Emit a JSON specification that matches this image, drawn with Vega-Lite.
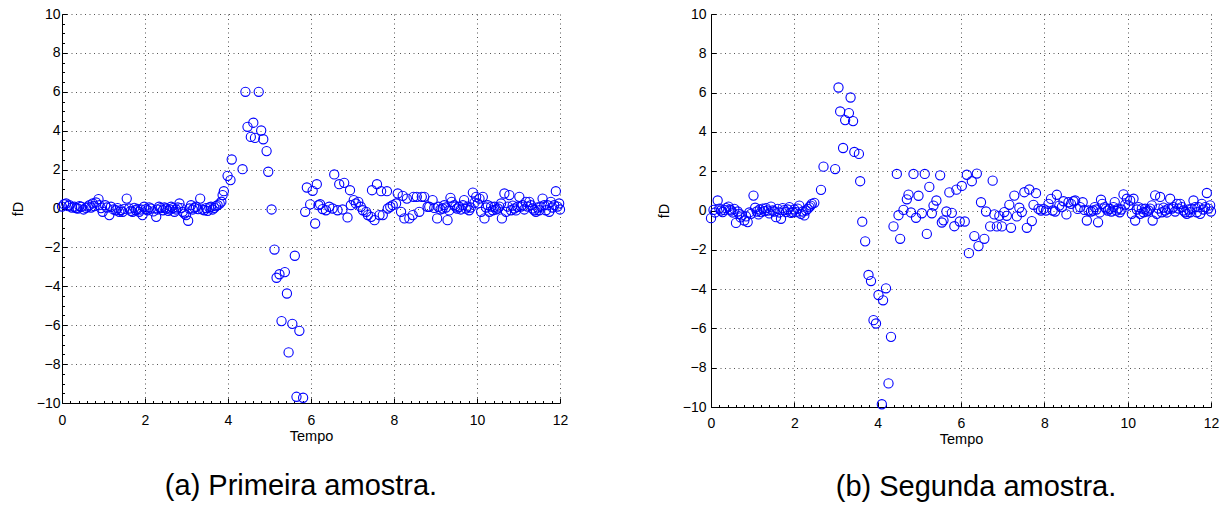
{
  "$schema": "https://vega.github.io/schema/vega-lite/v6.json",
  "padding": {"left": 10, "top": 7, "right": 5, "bottom": 5},
  "background": "white",
  "spacing": 88,
  "config": {
    "font": "Liberation Sans",
    "view": {"stroke": null},
    "axis": {
      "domainColor": "#000000",
      "domainWidth": 1,
      "tickColor": "#000000",
      "tickWidth": 1,
      "labelColor": "#000000",
      "labelFontSize": 14,
      "labelFont": "Liberation Sans",
      "titleFont": "Liberation Sans",
      "titleFontSize": 14.5,
      "titleFontWeight": "normal",
      "titleColor": "#000000",
      "grid": true,
      "gridColor": "#555555",
      "gridDash": [1, 3.5],
      "gridWidth": 1,
      "format": "d",
      "labelOverlap": false,
      "labelFlush": false,
      "labelBound": false
    },
    "title": {"font": "Liberation Sans", "fontSize": 29, "fontWeight": "normal", "color": "#000000", "orient": "bottom", "anchor": "middle"}
  },
  "datasets": {
    "primeira": [
      {"t": 0.00, "fD": 0.10}, {"t": 0.05, "fD": 0.22}, {"t": 0.10, "fD": 0.26}, {"t": 0.15, "fD": 0.12},
      {"t": 0.18, "fD": 0.17}, {"t": 0.24, "fD": 0.05}, {"t": 0.30, "fD": 0.09}, {"t": 0.34, "fD": 0.02},
      {"t": 0.38, "fD": 0.00}, {"t": 0.42, "fD": 0.12}, {"t": 0.46, "fD": 0.09}, {"t": 0.52, "fD": -0.05},
      {"t": 0.58, "fD": 0.03}, {"t": 0.62, "fD": 0.10}, {"t": 0.66, "fD": 0.17}, {"t": 0.70, "fD": 0.05},
      {"t": 0.74, "fD": 0.26}, {"t": 0.78, "fD": 0.12}, {"t": 0.82, "fD": 0.31}, {"t": 0.88, "fD": 0.48},
      {"t": 0.90, "fD": 0.17}, {"t": 0.94, "fD": 0.02}, {"t": 0.98, "fD": -0.17}, {"t": 1.04, "fD": 0.17},
      {"t": 1.08, "fD": 0.05}, {"t": 1.14, "fD": -0.34}, {"t": 1.18, "fD": 0.09}, {"t": 1.24, "fD": -0.05},
      {"t": 1.30, "fD": -0.09}, {"t": 1.34, "fD": 0.02}, {"t": 1.38, "fD": -0.17}, {"t": 1.42, "fD": -0.08},
      {"t": 1.46, "fD": -0.17}, {"t": 1.50, "fD": -0.02}, {"t": 1.56, "fD": 0.51}, {"t": 1.62, "fD": 0.00},
      {"t": 1.66, "fD": -0.12}, {"t": 1.70, "fD": -0.17}, {"t": 1.74, "fD": 0.03}, {"t": 1.78, "fD": -0.09},
      {"t": 1.82, "fD": -0.02}, {"t": 1.86, "fD": -0.17}, {"t": 1.90, "fD": -0.05}, {"t": 1.94, "fD": -0.34},
      {"t": 1.98, "fD": 0.09}, {"t": 2.02, "fD": -0.03}, {"t": 2.06, "fD": -0.09}, {"t": 2.10, "fD": 0.06},
      {"t": 2.14, "fD": 0.00}, {"t": 2.20, "fD": -0.15}, {"t": 2.27, "fD": -0.43}, {"t": 2.30, "fD": -0.05},
      {"t": 2.34, "fD": 0.09}, {"t": 2.38, "fD": 0.02}, {"t": 2.43, "fD": -0.09}, {"t": 2.47, "fD": 0.05},
      {"t": 2.51, "fD": 0.00}, {"t": 2.56, "fD": -0.12}, {"t": 2.60, "fD": -0.05}, {"t": 2.63, "fD": 0.09},
      {"t": 2.67, "fD": 0.02}, {"t": 2.71, "fD": -0.17}, {"t": 2.75, "fD": -0.05}, {"t": 2.79, "fD": 0.05},
      {"t": 2.83, "fD": 0.26}, {"t": 2.87, "fD": 0.02}, {"t": 2.91, "fD": -0.17}, {"t": 2.95, "fD": -0.26},
      {"t": 2.99, "fD": -0.34}, {"t": 3.04, "fD": -0.63}, {"t": 3.07, "fD": 0.00}, {"t": 3.11, "fD": 0.17},
      {"t": 3.15, "fD": -0.05}, {"t": 3.19, "fD": 0.04}, {"t": 3.23, "fD": 0.09}, {"t": 3.28, "fD": -0.03},
      {"t": 3.33, "fD": 0.51}, {"t": 3.38, "fD": -0.05}, {"t": 3.43, "fD": -0.09}, {"t": 3.47, "fD": 0.02},
      {"t": 3.51, "fD": -0.12}, {"t": 3.55, "fD": 0.05}, {"t": 3.59, "fD": 0.09}, {"t": 3.63, "fD": -0.05},
      {"t": 3.67, "fD": 0.03}, {"t": 3.71, "fD": 0.12}, {"t": 3.75, "fD": 0.17}, {"t": 3.80, "fD": 0.25},
      {"t": 3.84, "fD": 0.35}, {"t": 3.87, "fD": 0.69}, {"t": 3.90, "fD": 0.89}, {"t": 3.99, "fD": 1.68},
      {"t": 4.06, "fD": 1.46}, {"t": 4.09, "fD": 2.52}, {"t": 4.35, "fD": 2.02}, {"t": 4.42, "fD": 6.00},
      {"t": 4.47, "fD": 4.20}, {"t": 4.55, "fD": 3.68}, {"t": 4.61, "fD": 4.41}, {"t": 4.65, "fD": 3.63},
      {"t": 4.74, "fD": 6.00}, {"t": 4.80, "fD": 4.01}, {"t": 4.85, "fD": 3.56}, {"t": 4.93, "fD": 2.95},
      {"t": 4.97, "fD": 1.89}, {"t": 5.05, "fD": -0.05}, {"t": 5.12, "fD": -2.11}, {"t": 5.17, "fD": -3.56},
      {"t": 5.24, "fD": -3.38}, {"t": 5.29, "fD": -5.79}, {"t": 5.37, "fD": -3.27}, {"t": 5.42, "fD": -4.37},
      {"t": 5.46, "fD": -7.40}, {"t": 5.55, "fD": -5.93}, {"t": 5.61, "fD": -2.43}, {"t": 5.65, "fD": -9.68},
      {"t": 5.72, "fD": -6.29}, {"t": 5.81, "fD": -9.73}, {"t": 5.86, "fD": -0.17}, {"t": 5.90, "fD": 1.08},
      {"t": 5.98, "fD": 0.21}, {"t": 6.04, "fD": 0.91}, {"t": 6.10, "fD": -0.77}, {"t": 6.14, "fD": 1.25},
      {"t": 6.18, "fD": 0.17}, {"t": 6.22, "fD": 0.22}, {"t": 6.28, "fD": -0.03}, {"t": 6.36, "fD": -0.09},
      {"t": 6.44, "fD": 0.09}, {"t": 6.52, "fD": 0.00}, {"t": 6.56, "fD": 1.75}, {"t": 6.64, "fD": -0.09},
      {"t": 6.68, "fD": 1.25}, {"t": 6.76, "fD": -0.05}, {"t": 6.80, "fD": 1.32}, {"t": 6.88, "fD": -0.46},
      {"t": 6.94, "fD": 0.94}, {"t": 6.96, "fD": 0.17}, {"t": 7.03, "fD": 0.43}, {"t": 7.08, "fD": 0.26},
      {"t": 7.14, "fD": 0.34}, {"t": 7.20, "fD": 0.09}, {"t": 7.25, "fD": -0.09}, {"t": 7.33, "fD": -0.17},
      {"t": 7.37, "fD": -0.34}, {"t": 7.45, "fD": -0.43}, {"t": 7.47, "fD": 0.94}, {"t": 7.53, "fD": -0.60},
      {"t": 7.59, "fD": 1.25}, {"t": 7.65, "fD": -0.34}, {"t": 7.69, "fD": 0.89}, {"t": 7.73, "fD": -0.34},
      {"t": 7.83, "fD": 0.89}, {"t": 7.85, "fD": 0.00}, {"t": 7.91, "fD": 0.09}, {"t": 7.97, "fD": 0.17},
      {"t": 8.05, "fD": 0.26}, {"t": 8.09, "fD": 0.77}, {"t": 8.17, "fD": -0.17}, {"t": 8.21, "fD": 0.65},
      {"t": 8.25, "fD": -0.51}, {"t": 8.31, "fD": 0.51}, {"t": 8.37, "fD": -0.51}, {"t": 8.45, "fD": -0.34},
      {"t": 8.47, "fD": 0.60}, {"t": 8.55, "fD": 0.60}, {"t": 8.61, "fD": -0.17}, {"t": 8.67, "fD": 0.60},
      {"t": 8.73, "fD": 0.60}, {"t": 8.81, "fD": 0.09}, {"t": 8.85, "fD": 0.09}, {"t": 8.93, "fD": 0.43},
      {"t": 8.97, "fD": 0.03}, {"t": 9.04, "fD": -0.51}, {"t": 9.07, "fD": 0.09}, {"t": 9.12, "fD": -0.05},
      {"t": 9.17, "fD": 0.00}, {"t": 9.21, "fD": 0.17}, {"t": 9.25, "fD": 0.05}, {"t": 9.29, "fD": -0.60},
      {"t": 9.33, "fD": -0.10}, {"t": 9.36, "fD": 0.55}, {"t": 9.39, "fD": 0.34}, {"t": 9.45, "fD": 0.17},
      {"t": 9.48, "fD": 0.10}, {"t": 9.52, "fD": 0.00}, {"t": 9.57, "fD": 0.09}, {"t": 9.61, "fD": -0.05},
      {"t": 9.66, "fD": 0.17}, {"t": 9.69, "fD": 0.43}, {"t": 9.73, "fD": 0.00}, {"t": 9.77, "fD": 0.10},
      {"t": 9.81, "fD": -0.09}, {"t": 9.85, "fD": 0.05}, {"t": 9.90, "fD": 0.82}, {"t": 9.94, "fD": 0.30},
      {"t": 9.98, "fD": 0.60}, {"t": 10.02, "fD": 0.26}, {"t": 10.06, "fD": 0.51}, {"t": 10.10, "fD": -0.17},
      {"t": 10.14, "fD": 0.60}, {"t": 10.18, "fD": -0.51}, {"t": 10.22, "fD": 0.05}, {"t": 10.26, "fD": 0.17},
      {"t": 10.30, "fD": -0.17}, {"t": 10.34, "fD": 0.10}, {"t": 10.38, "fD": -0.09}, {"t": 10.42, "fD": 0.09},
      {"t": 10.46, "fD": -0.05}, {"t": 10.50, "fD": 0.00}, {"t": 10.54, "fD": 0.10}, {"t": 10.58, "fD": 0.26},
      {"t": 10.60, "fD": -0.51}, {"t": 10.66, "fD": 0.77}, {"t": 10.70, "fD": -0.17}, {"t": 10.74, "fD": 0.10},
      {"t": 10.78, "fD": 0.69}, {"t": 10.82, "fD": -0.09}, {"t": 10.86, "fD": 0.15}, {"t": 10.90, "fD": 0.00},
      {"t": 10.94, "fD": -0.10}, {"t": 10.98, "fD": 0.09}, {"t": 11.02, "fD": 0.60}, {"t": 11.06, "fD": 0.10},
      {"t": 11.10, "fD": 0.17}, {"t": 11.14, "fD": -0.05}, {"t": 11.18, "fD": 0.34}, {"t": 11.22, "fD": 0.10},
      {"t": 11.26, "fD": 0.34}, {"t": 11.30, "fD": 0.17}, {"t": 11.34, "fD": 0.00}, {"t": 11.38, "fD": -0.09},
      {"t": 11.42, "fD": -0.17}, {"t": 11.46, "fD": 0.05}, {"t": 11.50, "fD": -0.09}, {"t": 11.54, "fD": 0.10},
      {"t": 11.58, "fD": 0.51}, {"t": 11.62, "fD": 0.17}, {"t": 11.66, "fD": -0.09}, {"t": 11.70, "fD": 0.17},
      {"t": 11.74, "fD": -0.17}, {"t": 11.78, "fD": 0.34}, {"t": 11.82, "fD": 0.05}, {"t": 11.86, "fD": 0.17},
      {"t": 11.90, "fD": 0.89}, {"t": 11.94, "fD": 0.10}, {"t": 11.98, "fD": 0.26}, {"t": 12.00, "fD": -0.05}
    ],
    "segunda": [
      {"t": 0.00, "fD": -0.39}, {"t": 0.06, "fD": 0.03}, {"t": 0.10, "fD": -0.10}, {"t": 0.16, "fD": 0.51},
      {"t": 0.20, "fD": 0.10}, {"t": 0.24, "fD": 0.00}, {"t": 0.28, "fD": -0.08}, {"t": 0.32, "fD": 0.03},
      {"t": 0.36, "fD": 0.12}, {"t": 0.42, "fD": 0.20}, {"t": 0.45, "fD": 0.05}, {"t": 0.48, "fD": 0.00},
      {"t": 0.52, "fD": -0.10}, {"t": 0.56, "fD": 0.08}, {"t": 0.60, "fD": -0.63}, {"t": 0.64, "fD": -0.05},
      {"t": 0.68, "fD": -0.17}, {"t": 0.71, "fD": -0.35}, {"t": 0.74, "fD": -0.25}, {"t": 0.80, "fD": -0.51},
      {"t": 0.84, "fD": -0.30}, {"t": 0.88, "fD": -0.59}, {"t": 0.92, "fD": -0.10}, {"t": 0.96, "fD": -0.17},
      {"t": 1.02, "fD": 0.76}, {"t": 1.06, "fD": 0.14}, {"t": 1.10, "fD": -0.05}, {"t": 1.14, "fD": -0.20},
      {"t": 1.17, "fD": 0.05}, {"t": 1.20, "fD": -0.08}, {"t": 1.24, "fD": 0.10}, {"t": 1.28, "fD": -0.03},
      {"t": 1.32, "fD": 0.12}, {"t": 1.36, "fD": 0.00}, {"t": 1.40, "fD": -0.15}, {"t": 1.44, "fD": 0.20},
      {"t": 1.48, "fD": 0.00}, {"t": 1.52, "fD": -0.05}, {"t": 1.56, "fD": -0.34}, {"t": 1.60, "fD": 0.08},
      {"t": 1.64, "fD": -0.10}, {"t": 1.68, "fD": -0.42}, {"t": 1.72, "fD": 0.12}, {"t": 1.76, "fD": 0.02},
      {"t": 1.80, "fD": -0.08}, {"t": 1.84, "fD": 0.05}, {"t": 1.88, "fD": 0.17}, {"t": 1.92, "fD": -0.12},
      {"t": 1.96, "fD": -0.08}, {"t": 2.00, "fD": 0.05}, {"t": 2.04, "fD": -0.08}, {"t": 2.08, "fD": 0.10},
      {"t": 2.12, "fD": 0.25}, {"t": 2.16, "fD": -0.17}, {"t": 2.20, "fD": -0.05}, {"t": 2.24, "fD": -0.25},
      {"t": 2.28, "fD": 0.00}, {"t": 2.32, "fD": 0.08}, {"t": 2.36, "fD": 0.17}, {"t": 2.39, "fD": 0.25},
      {"t": 2.42, "fD": 0.34}, {"t": 2.48, "fD": 0.39}, {"t": 2.64, "fD": 1.05}, {"t": 2.70, "fD": 2.23},
      {"t": 2.98, "fD": 2.11}, {"t": 3.06, "fD": 6.26}, {"t": 3.10, "fD": 5.04}, {"t": 3.17, "fD": 3.18},
      {"t": 3.22, "fD": 4.60}, {"t": 3.31, "fD": 4.96}, {"t": 3.35, "fD": 5.75}, {"t": 3.41, "fD": 4.55},
      {"t": 3.44, "fD": 2.98}, {"t": 3.55, "fD": 2.88}, {"t": 3.58, "fD": 1.49}, {"t": 3.63, "fD": -0.57},
      {"t": 3.70, "fD": -1.57}, {"t": 3.78, "fD": -3.28}, {"t": 3.84, "fD": -3.59}, {"t": 3.90, "fD": -5.58},
      {"t": 3.96, "fD": -5.75}, {"t": 4.02, "fD": -4.30}, {"t": 4.10, "fD": -9.86}, {"t": 4.13, "fD": -4.57},
      {"t": 4.20, "fD": -3.96}, {"t": 4.26, "fD": -8.80}, {"t": 4.32, "fD": -6.43}, {"t": 4.38, "fD": -0.81},
      {"t": 4.46, "fD": 1.86}, {"t": 4.50, "fD": -0.24}, {"t": 4.54, "fD": -1.44}, {"t": 4.62, "fD": 0.03},
      {"t": 4.70, "fD": 0.57}, {"t": 4.74, "fD": 0.81}, {"t": 4.80, "fD": -0.10}, {"t": 4.86, "fD": 1.86},
      {"t": 4.92, "fD": -0.37}, {"t": 4.98, "fD": 0.75}, {"t": 5.06, "fD": -0.14}, {"t": 5.13, "fD": 1.86},
      {"t": 5.18, "fD": -1.19}, {"t": 5.24, "fD": 1.20}, {"t": 5.30, "fD": -0.14}, {"t": 5.34, "fD": 0.25},
      {"t": 5.41, "fD": 0.51}, {"t": 5.50, "fD": 1.79}, {"t": 5.54, "fD": -0.61}, {"t": 5.58, "fD": -0.50},
      {"t": 5.65, "fD": -0.05}, {"t": 5.72, "fD": 0.92}, {"t": 5.78, "fD": -0.12}, {"t": 5.84, "fD": -0.80},
      {"t": 5.89, "fD": 1.06}, {"t": 5.97, "fD": -0.56}, {"t": 6.02, "fD": 1.25}, {"t": 6.09, "fD": -0.56},
      {"t": 6.14, "fD": 1.82}, {"t": 6.19, "fD": -2.17}, {"t": 6.26, "fD": 1.49}, {"t": 6.32, "fD": -1.30},
      {"t": 6.38, "fD": 1.88}, {"t": 6.42, "fD": -1.81}, {"t": 6.48, "fD": 0.42}, {"t": 6.56, "fD": -1.44},
      {"t": 6.60, "fD": -0.05}, {"t": 6.70, "fD": -0.81}, {"t": 6.76, "fD": 1.52}, {"t": 6.80, "fD": -0.20},
      {"t": 6.86, "fD": -0.81}, {"t": 6.92, "fD": -0.27}, {"t": 6.98, "fD": -0.81}, {"t": 7.04, "fD": -0.08},
      {"t": 7.10, "fD": -0.27}, {"t": 7.16, "fD": 0.29}, {"t": 7.20, "fD": -0.88}, {"t": 7.28, "fD": 0.76},
      {"t": 7.34, "fD": -0.30}, {"t": 7.40, "fD": 0.14}, {"t": 7.46, "fD": -0.08}, {"t": 7.52, "fD": 0.93},
      {"t": 7.58, "fD": -0.88}, {"t": 7.64, "fD": 1.07}, {"t": 7.70, "fD": -0.54}, {"t": 7.74, "fD": 0.29},
      {"t": 7.80, "fD": 0.88}, {"t": 7.86, "fD": 0.08}, {"t": 7.92, "fD": 0.00}, {"t": 7.98, "fD": 0.08},
      {"t": 8.04, "fD": 0.00}, {"t": 8.10, "fD": 0.34}, {"t": 8.16, "fD": 0.59}, {"t": 8.20, "fD": 0.00},
      {"t": 8.26, "fD": -0.05}, {"t": 8.30, "fD": 0.80}, {"t": 8.36, "fD": 0.25}, {"t": 8.42, "fD": 0.17},
      {"t": 8.46, "fD": 0.47}, {"t": 8.53, "fD": -0.20}, {"t": 8.58, "fD": 0.42}, {"t": 8.64, "fD": 0.34},
      {"t": 8.70, "fD": 0.47}, {"t": 8.74, "fD": 0.51}, {"t": 8.80, "fD": 0.08}, {"t": 8.86, "fD": 0.17},
      {"t": 8.92, "fD": 0.42}, {"t": 8.96, "fD": 0.03}, {"t": 9.02, "fD": -0.51}, {"t": 9.06, "fD": 0.00},
      {"t": 9.12, "fD": -0.05}, {"t": 9.17, "fD": 0.00}, {"t": 9.21, "fD": 0.17}, {"t": 9.25, "fD": 0.05},
      {"t": 9.29, "fD": -0.60}, {"t": 9.33, "fD": -0.10}, {"t": 9.36, "fD": 0.55}, {"t": 9.39, "fD": 0.34},
      {"t": 9.45, "fD": 0.17}, {"t": 9.48, "fD": 0.10}, {"t": 9.52, "fD": 0.00}, {"t": 9.57, "fD": 0.09},
      {"t": 9.61, "fD": -0.05}, {"t": 9.66, "fD": 0.17}, {"t": 9.69, "fD": 0.43}, {"t": 9.73, "fD": 0.00},
      {"t": 9.77, "fD": 0.10}, {"t": 9.81, "fD": -0.09}, {"t": 9.85, "fD": 0.05}, {"t": 9.90, "fD": 0.82},
      {"t": 9.94, "fD": 0.30}, {"t": 9.98, "fD": 0.60}, {"t": 10.02, "fD": 0.26}, {"t": 10.06, "fD": 0.51},
      {"t": 10.10, "fD": -0.17}, {"t": 10.14, "fD": 0.60}, {"t": 10.18, "fD": -0.51}, {"t": 10.22, "fD": 0.05},
      {"t": 10.26, "fD": 0.17}, {"t": 10.30, "fD": -0.17}, {"t": 10.34, "fD": 0.10}, {"t": 10.38, "fD": -0.09},
      {"t": 10.42, "fD": 0.09}, {"t": 10.46, "fD": -0.05}, {"t": 10.50, "fD": 0.00}, {"t": 10.54, "fD": 0.10},
      {"t": 10.58, "fD": 0.26}, {"t": 10.60, "fD": -0.51}, {"t": 10.66, "fD": 0.77}, {"t": 10.70, "fD": -0.17},
      {"t": 10.74, "fD": 0.10}, {"t": 10.78, "fD": 0.69}, {"t": 10.82, "fD": -0.09}, {"t": 10.86, "fD": 0.15},
      {"t": 10.90, "fD": 0.00}, {"t": 10.94, "fD": -0.10}, {"t": 10.98, "fD": 0.09}, {"t": 11.02, "fD": 0.60},
      {"t": 11.06, "fD": 0.10}, {"t": 11.10, "fD": 0.17}, {"t": 11.14, "fD": -0.05}, {"t": 11.18, "fD": 0.34},
      {"t": 11.22, "fD": 0.10}, {"t": 11.26, "fD": 0.34}, {"t": 11.30, "fD": 0.17}, {"t": 11.34, "fD": 0.00},
      {"t": 11.38, "fD": -0.09}, {"t": 11.42, "fD": -0.17}, {"t": 11.46, "fD": 0.05}, {"t": 11.50, "fD": -0.09},
      {"t": 11.54, "fD": 0.10}, {"t": 11.58, "fD": 0.51}, {"t": 11.62, "fD": 0.17}, {"t": 11.66, "fD": -0.09},
      {"t": 11.70, "fD": 0.17}, {"t": 11.74, "fD": -0.17}, {"t": 11.78, "fD": 0.34}, {"t": 11.82, "fD": 0.05},
      {"t": 11.86, "fD": 0.17}, {"t": 11.90, "fD": 0.89}, {"t": 11.94, "fD": 0.10}, {"t": 11.98, "fD": 0.26},
      {"t": 12.00, "fD": -0.05}
    ]
  },
  "hconcat": [
    {
      "width": 498,
      "height": 389,
      "data": {"name": "primeira"},
      "title": {"text": "(a) Primeira amostra.", "offset": 29, "dx": -10},
      "mark": {"type": "point", "shape": "circle", "filled": false, "size": 85, "stroke": "#0000ff", "strokeWidth": 1.1, "opacity": 1},
      "encoding": {
        "x": {
          "field": "t", "type": "quantitative",
          "scale": {"domain": [0, 12], "nice": false, "zero": false},
          "axis": {
            "title": "Tempo", "titlePadding": 0, "labelPadding": 15,
            "values": [0,0.2,0.4,0.6,0.8,1,1.2,1.4,1.6,1.8,2,2.2,2.4,2.6,2.8,3,3.2,3.4,3.6,3.8,4,4.2,4.4,4.6,4.8,5,5.2,5.4,5.6,5.8,6,6.2,6.4,6.6,6.8,7,7.2,7.4,7.6,7.8,8,8.2,8.4,8.6,8.8,9,9.2,9.4,9.6,9.8,10,10.2,10.4,10.6,10.8,11,11.2,11.4,11.6,11.8,12],
            "labelExpr": "datum.value % 2 === 0 ? datum.label : ''",
            "tickSize": {"condition": {"test": "datum.value % 2 === 0", "value": -5}, "value": -2.5},
            "gridOpacity": {"condition": {"test": "datum.value % 2 === 0", "value": 1}, "value": 0}
          }
        },
        "y": {
          "field": "fD", "type": "quantitative",
          "scale": {"domain": [-10, 10], "nice": false, "zero": false},
          "axis": {
            "title": "fD", "titlePadding": 11, "labelPadding": 7,
            "values": [-10,-9.5,-9,-8.5,-8,-7.5,-7,-6.5,-6,-5.5,-5,-4.5,-4,-3.5,-3,-2.5,-2,-1.5,-1,-0.5,0,0.5,1,1.5,2,2.5,3,3.5,4,4.5,5,5.5,6,6.5,7,7.5,8,8.5,9,9.5,10],
            "labelExpr": "datum.value % 2 === 0 ? datum.label : ''",
            "tickSize": {"condition": {"test": "datum.value % 2 === 0", "value": -5}, "value": -2.5},
            "gridOpacity": {"condition": {"test": "datum.value % 2 === 0", "value": 1}, "value": 0}
          }
        }
      }
    },
    {
      "width": 500,
      "height": 393,
      "data": {"name": "segunda"},
      "title": {"text": "(b) Segunda amostra.", "offset": 27, "dx": 15},
      "mark": {"type": "point", "shape": "circle", "filled": false, "size": 85, "stroke": "#0000ff", "strokeWidth": 1.1, "opacity": 1},
      "encoding": {
        "x": {
          "field": "t", "type": "quantitative",
          "scale": {"domain": [0, 12], "nice": false, "zero": false},
          "axis": {
            "title": "Tempo", "titlePadding": 0, "labelPadding": 14,
            "values": [0,0.2,0.4,0.6,0.8,1,1.2,1.4,1.6,1.8,2,2.2,2.4,2.6,2.8,3,3.2,3.4,3.6,3.8,4,4.2,4.4,4.6,4.8,5,5.2,5.4,5.6,5.8,6,6.2,6.4,6.6,6.8,7,7.2,7.4,7.6,7.8,8,8.2,8.4,8.6,8.8,9,9.2,9.4,9.6,9.8,10,10.2,10.4,10.6,10.8,11,11.2,11.4,11.6,11.8,12],
            "labelExpr": "datum.value % 2 === 0 ? datum.label : ''",
            "tickSize": {"condition": {"test": "datum.value % 2 === 0", "value": -5}, "value": -2.5},
            "gridOpacity": {"condition": {"test": "datum.value % 2 === 0", "value": 1}, "value": 0}
          }
        },
        "y": {
          "field": "fD", "type": "quantitative",
          "scale": {"domain": [-10, 10], "nice": false, "zero": false},
          "axis": {
            "title": "fD", "titlePadding": 11, "labelPadding": 10,
            "values": [-10,-8,-6,-4,-2,0,2,4,6,8,10],
            "tickSize": -5
          }
        }
      }
    }
  ]
}
